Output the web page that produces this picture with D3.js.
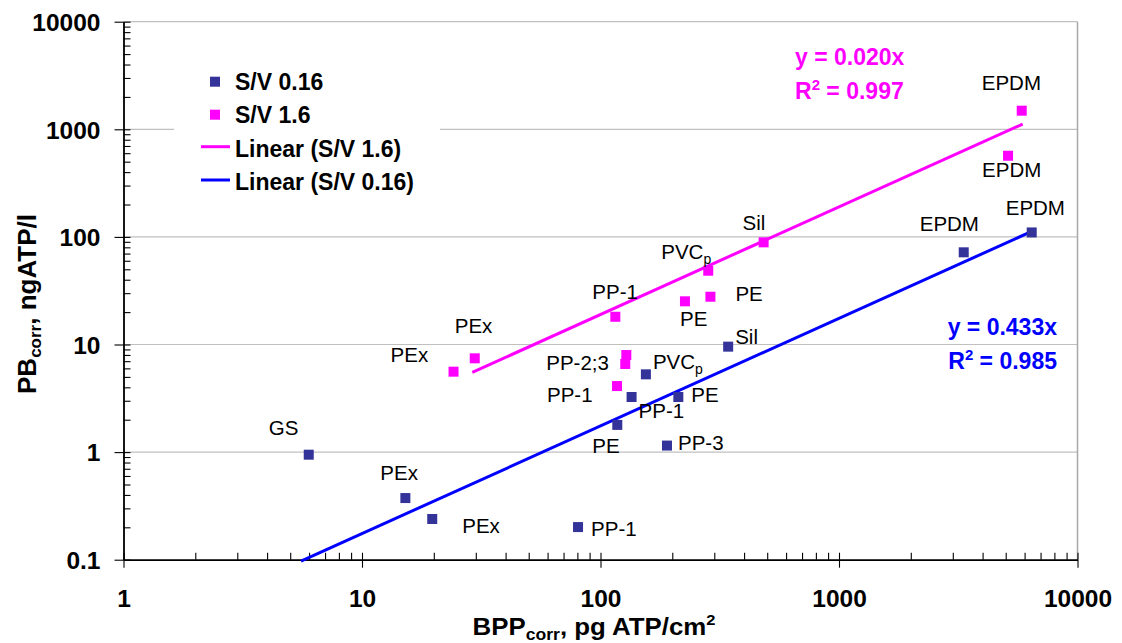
<!DOCTYPE html>
<html>
<head>
<meta charset="utf-8">
<script src="https://cdn.jsdelivr.net/npm/d3@7"></script>
<style>
  html, body { margin: 0; padding: 0; background: #fff; }
  svg { display: block; font-family: "Liberation Sans", Arial, sans-serif; }
</style>
</head>
<body>
<svg id="chart" width="1122" height="643"></svg>
<script>
// ---------------- data ----------------
const xTickValues = [1, 10, 100, 1000, 10000];
const yTickValues = [0.1, 1, 10, 100, 1000, 10000];

// S/V 0.16 (dark blue squares)
const sv016X = [5.98, 15.2, 19.7, 80.5, 117.6, 190, 135, 212, 155, 343, 3334, 6427];
const sv016Y = [0.946, 0.374, 0.239, 0.201, 1.79, 1.15, 3.25, 3.25, 5.28, 9.55, 71.9, 110];
const sv016Labels = ["GS", "PEx", "PEx", "PP-1", "PE", "PP-3", "PP-1", "PE", "PVC|p", "Sil", "EPDM", "EPDM"];

// S/V 1.6 (magenta squares)
const sv16X = [24.2, 29.7, 117.3, 128.3, 127, 115.4, 226, 289, 283, 483, 5114, 5837];
const sv16Y = [5.59, 7.44, 4.11, 7.98, 6.59, 18.1, 25.2, 27.8, 48.5, 89, 568, 1489];
const sv16Labels = ["PEx", "PEx", "PP-1", "", "PP-2;3", "PP-1", "PE", "PE", "PVC|p", "Sil", "EPDM", "EPDM"];

// linear trendlines (y = k·x) drawn over the given x extent
const trend16X = [29, 5890];
const trend16K = 0.19;
const trend016X = [5.55, 6430];
const trend016K = 0.0175;

const legendLabels = ["S/V 0.16", "S/V 1.6", "Linear (S/V 1.6)", "Linear (S/V 0.16)"];
const eq16 = ["y = 0.020x", "0.997"];
const eq016 = ["y = 0.433x", "0.985"];

// ---------------- layout (label offsets from marker centre, px) ----------------
const sv016Offsets = [[-40,-20],[-25,-18],[30,14],[13,9],[-25,28],[11,4],[7,21],[13,5],[7,-5],[7,-3],[-44,-21],[-26,-17]];
const sv16Offsets  = [[-63,-10],[-20,-25],[-70,16],[0,0],[-79,6],[-23,-18],[-5,25],[25,4],[-47,-12],[-21,-12],[-26,21],[-40,-21]];

const BLUE_MK = "#333399", PINK = "#FF00FF", BLUE_LN = "#0000FF";

const svg = d3.select("#chart");
const x = d3.scaleLog().domain([1, 10000]).range([123.5, 1077.5]);
const y = d3.scaleLog().domain([0.1, 10000]).range([559.7, 21.7]);

// minor ticks
const minorX = [], minorY = [];
for (let d = 1; d < 10000; d *= 10) for (let m = 2; m <= 9; m++) minorX.push(d * m);
for (let d = 0.1; d < 10000; d *= 10) for (let m = 2; m <= 9; m++) minorY.push(+(d * m).toPrecision(3));

// grid lines
svg.append("g").selectAll("line").data(yTickValues.slice(1)).join("line")
  .attr("x1", x(1)).attr("x2", x(10000))
  .attr("y1", d => y(d)).attr("y2", d => y(d))
  .attr("stroke", "#c0c0c0").attr("stroke-width", 1.2);
// right border
svg.append("line").attr("x1", x(10000)).attr("x2", x(10000))
  .attr("y1", y(10000)).attr("y2", y(0.1))
  .attr("stroke", "#a8a8a8").attr("stroke-width", 1.5);

// legend background (covers grid)
svg.append("rect").attr("x", 174).attr("y", 58).attr("width", 266).attr("height", 145).attr("fill", "#fff");

// axes
const axFont = g => g.selectAll("text").attr("font-size", 24.5).attr("font-weight", "bold").attr("fill", "#000")
  .attr("font-family", "'Liberation Sans', Arial, sans-serif");

const xMinor = svg.append("g").attr("transform", `translate(0,${y(0.1)})`)
  .call(d3.axisBottom(x).tickValues(minorX.concat(xTickValues)).tickSize(-7).tickSizeOuter(0).tickFormat(""));
const xMajor = svg.append("g").attr("transform", `translate(0,${y(0.1)})`)
  .call(d3.axisBottom(x).tickValues(xTickValues).tickSize(8).tickSizeOuter(0).tickPadding(22).tickFormat(d3.format("d")))
  .call(axFont);
const yMinor = svg.append("g").attr("transform", `translate(${x(1)},0)`)
  .call(d3.axisLeft(y).tickValues(minorY.concat(yTickValues)).tickSize(-7).tickSizeOuter(0).tickFormat(""));
const yMajor = svg.append("g").attr("transform", `translate(${x(1)},0)`)
  .call(d3.axisLeft(y).tickValues(yTickValues).tickSize(9).tickSizeOuter(0).tickPadding(14)
    .tickFormat(d => d < 1 ? String(d) : d3.format("d")(d)))
  .call(axFont);
[xMinor, xMajor, yMinor, yMajor].forEach(g => {
  g.selectAll("line").attr("stroke", "#000").attr("stroke-width", 1.1);
  g.select(".domain").attr("stroke", "#000").attr("stroke-width", 1.4);
});
yMajor.selectAll("text").attr("dy", "0.36em");

// trendlines
const line = d3.line().x(d => x(d[0])).y(d => y(d[1]));
svg.append("path").datum(trend16X.map(v => [v, trend16K * v]))
  .attr("d", line).attr("stroke", PINK).attr("stroke-width", 3).attr("fill", "none");
svg.append("path").datum(trend016X.map(v => [v, trend016K * v]))
  .attr("d", line).attr("stroke", BLUE_LN).attr("stroke-width", 3).attr("fill", "none");

// markers
const MS = 10;
function drawSeries(xs, ys, color) {
  svg.append("g").selectAll("rect").data(xs.map((v, i) => [v, ys[i]])).join("rect")
    .attr("x", d => x(d[0]) - MS / 2).attr("y", d => y(d[1]) - MS / 2)
    .attr("width", MS).attr("height", MS).attr("fill", color);
}
drawSeries(sv016X, sv016Y, BLUE_MK);
drawSeries(sv16X, sv16Y, PINK);

// point labels
function drawLabels(xs, ys, labels, offs) {
  labels.forEach((lab, i) => {
    if (!lab) return;
    const parts = lab.split("|");
    const t = svg.append("text")
      .attr("x", x(xs[i]) + offs[i][0]).attr("y", y(ys[i]) + offs[i][1])
      .attr("font-size", 20.5).attr("fill", "#000");
    t.append("tspan").text(parts[0]);
    if (parts[1]) t.append("tspan").attr("font-size", 14).attr("dy", 5).text(parts[1]);
  });
}
drawLabels(sv016X, sv016Y, sv016Labels, sv016Offsets);
drawLabels(sv16X, sv16Y, sv16Labels, sv16Offsets);

// equations
function drawEq(lines, color, xPos, yPos, anchor) {
  svg.append("text").attr("x", xPos).attr("y", yPos).attr("text-anchor", anchor)
    .attr("font-size", 23).attr("font-weight", "bold").attr("fill", color).text(lines[0]);
  const t = svg.append("text").attr("x", xPos).attr("y", yPos + 34).attr("text-anchor", anchor)
    .attr("font-size", 23).attr("font-weight", "bold").attr("fill", color);
  t.append("tspan").text("R");
  t.append("tspan").attr("font-size", 15).attr("dy", -9).text("2");
  t.append("tspan").attr("dy", 9).text(" = " + lines[1]);
}
drawEq(eq16, PINK, 795, 65, "start");
drawEq(eq016, BLUE_LN, 1057, 335, "end");

// legend
const lg = svg.append("g");
const legendY = [90, 123, 156.7, 190];
legendLabels.forEach((lab, i) => {
  if (i < 2) {
    lg.append("rect").attr("x", 215 - MS / 2).attr("y", legendY[i] - 8.3 - MS / 2)
      .attr("width", MS).attr("height", MS).attr("fill", i === 0 ? BLUE_MK : PINK);
  } else {
    lg.append("line").attr("x1", 201).attr("x2", 230)
      .attr("y1", legendY[i] - 10).attr("y2", legendY[i] - 10)
      .attr("stroke", i === 2 ? PINK : BLUE_LN).attr("stroke-width", 3);
  }
  lg.append("text").attr("x", 235).attr("y", legendY[i])
    .attr("font-size", 23).attr("font-weight", "bold").attr("fill", "#000").text(lab);
});

// axis titles
const xt = svg.append("text").attr("transform", "translate(594,635) scale(1.1,1)").attr("text-anchor", "middle")
  .attr("font-size", 23.5).attr("font-weight", "bold").attr("fill", "#000");
xt.append("tspan").text("BPP");
xt.append("tspan").attr("font-size", 16).attr("dy", 5).text("corr");
xt.append("tspan").attr("dy", -5).text(", pg ATP/cm");
xt.append("tspan").attr("font-size", 15).attr("dy", -10).text("2");

const yt = svg.append("text").attr("transform", "translate(36,304) rotate(-90)").attr("text-anchor", "middle")
  .attr("font-size", 26).attr("font-weight", "bold").attr("fill", "#000");
yt.append("tspan").text("PB");
yt.append("tspan").attr("font-size", 17).attr("dy", 5).text("corr");
yt.append("tspan").attr("dy", -5).text(", ngATP/l");
</script>
</body>
</html>
